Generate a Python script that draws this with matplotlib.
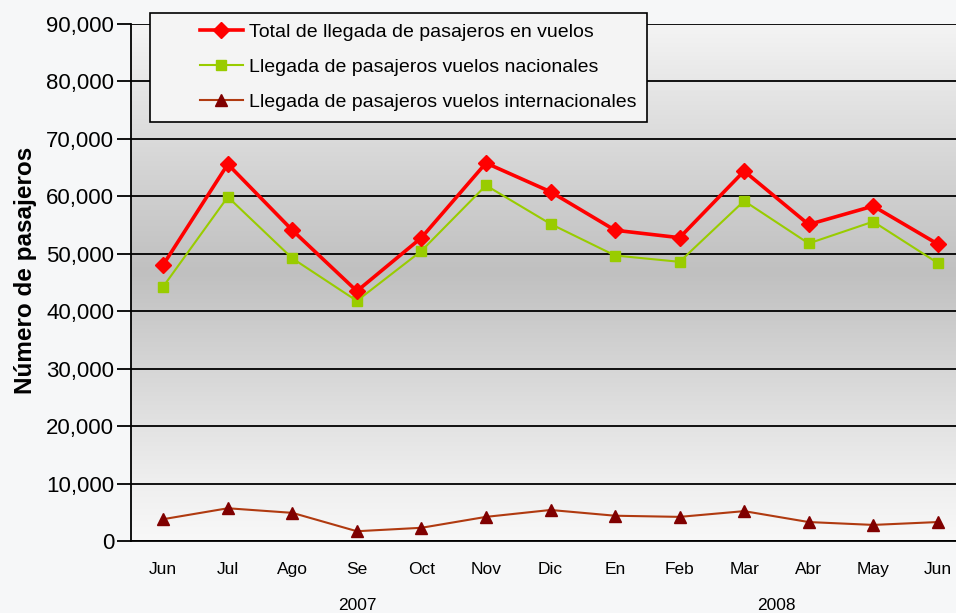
import numpy as np
import matplotlib.pyplot as plt
from matplotlib.colors import LinearSegmentedColormap
from matplotlib.ticker import FuncFormatter
from matplotlib.patches import Rectangle

plt.rcParams['font.family'] = ['Liberation Sans', 'DejaVu Sans']

meses = ['Jun', 'Jul', 'Ago', 'Se', 'Oct', 'Nov', 'Dic', 'En', 'Feb', 'Mar', 'Abr', 'May', 'Jun']
total = [48100, 65600, 54100, 43500, 52800, 65800, 60800, 54100, 52800, 64400, 55100, 58300, 51700]
nacionales = [44300, 59900, 49200, 41800, 50500, 61900, 55200, 49700, 48600, 59200, 51800, 55600, 48400]
internacionales = [3800, 5700, 4900, 1700, 2300, 4200, 5400, 4400, 4200, 5200, 3300, 2800, 3300]
anios = ['2007', '2008']

fig = plt.figure(figsize=(9.56, 6.13), dpi=100)
fig.patch.set_facecolor('#f6f7f8')

# axes: left 131px, bottom 541px, top 24px, right edge runs past the figure
ax = fig.add_axes([131 / 956, (613 - 541) / 613, (970 - 131) / 956, (541 - 24) / 613])
x = np.arange(len(meses))
ax.set_xlim(-0.5, len(meses) - 0.5)
ax.set_ylim(0, 90000)

# vertical gradient background
grad = LinearSegmentedColormap.from_list('g', [
    (0.0, '#f8f8f8'), (0.12, '#eeeeee'), (0.35, '#d4d4d4'),
    (0.52, '#c0c0c0'), (0.7, '#d2d2d2'), (0.88, '#e6e6e6'), (1.0, '#f4f4f4')])
ax.imshow(np.linspace(0, 1, 256).reshape(-1, 1), cmap=grad, aspect='auto',
          extent=[-0.5, len(meses) - 0.5, 0, 90000], origin='lower', zorder=0)

ax.set_yticks(np.arange(0, 90001, 10000))
ax.yaxis.set_major_formatter(FuncFormatter(lambda v, p: f'{int(v):,}'))
ax.grid(axis='y', color='black', linewidth=1.3, zorder=1)
ax.set_axisbelow(False)

ax.plot(x, total, '-D', color='#ff0000', lw=2.6, ms=8, zorder=4,
        label='Total de llegada de pasajeros en vuelos')
ax.plot(x, nacionales, '-s', color='#99cc00', lw=1.5, ms=7, zorder=3,
        label='Llegada de pasajeros vuelos nacionales')
ax.plot(x, internacionales, '-^', color='#b03a10', mfc='#800000', mec='#800000',
        lw=1.5, ms=8, zorder=3, label='Llegada de pasajeros vuelos internacionales')

for s in ['top', 'right']:
    ax.spines[s].set_visible(False)
ax.spines['left'].set_linewidth(1.3)
ax.spines['bottom'].set_linewidth(1.3)

ax.set_xticks(x)
ax.set_xticklabels(meses, fontsize=12.5)
ax.tick_params(axis='x', length=0, pad=15)
ax.tick_params(axis='y', labelsize=16, length=10, width=1.3, pad=2)

ax.set_ylabel('Número de pasajeros', fontsize=17.5, fontweight='bold')
ax.yaxis.set_label_coords((37 - 131) / 839, (541 - 270) / 517)

ax.text(3, -11200, anios[0], ha='center', va='center', fontsize=12.5)
ax.text(9.5, -11200, anios[1], ha='center', va='center', fontsize=12.5)

# legend frame drawn separately (wide left margin as in the original)
frame = Rectangle((150 / 956, 1 - 122 / 613), (647 - 150) / 956, (122 - 13) / 613,
                  transform=fig.transFigure, facecolor='#f4f4f4', edgecolor='black',
                  linewidth=1.2, zorder=9, clip_on=False)
ax.add_patch(frame)
leg = ax.legend(loc='upper left', bbox_to_anchor=(200 / 956, 1 - 23 / 613),
                bbox_transform=fig.transFigure, fontsize=14, frameon=False,
                borderpad=0, labelspacing=0.9, handlelength=2.2,
                handletextpad=0.3, borderaxespad=0)
leg.set_zorder(10)

fig.savefig('out.png', dpi=100, facecolor=fig.get_facecolor())
